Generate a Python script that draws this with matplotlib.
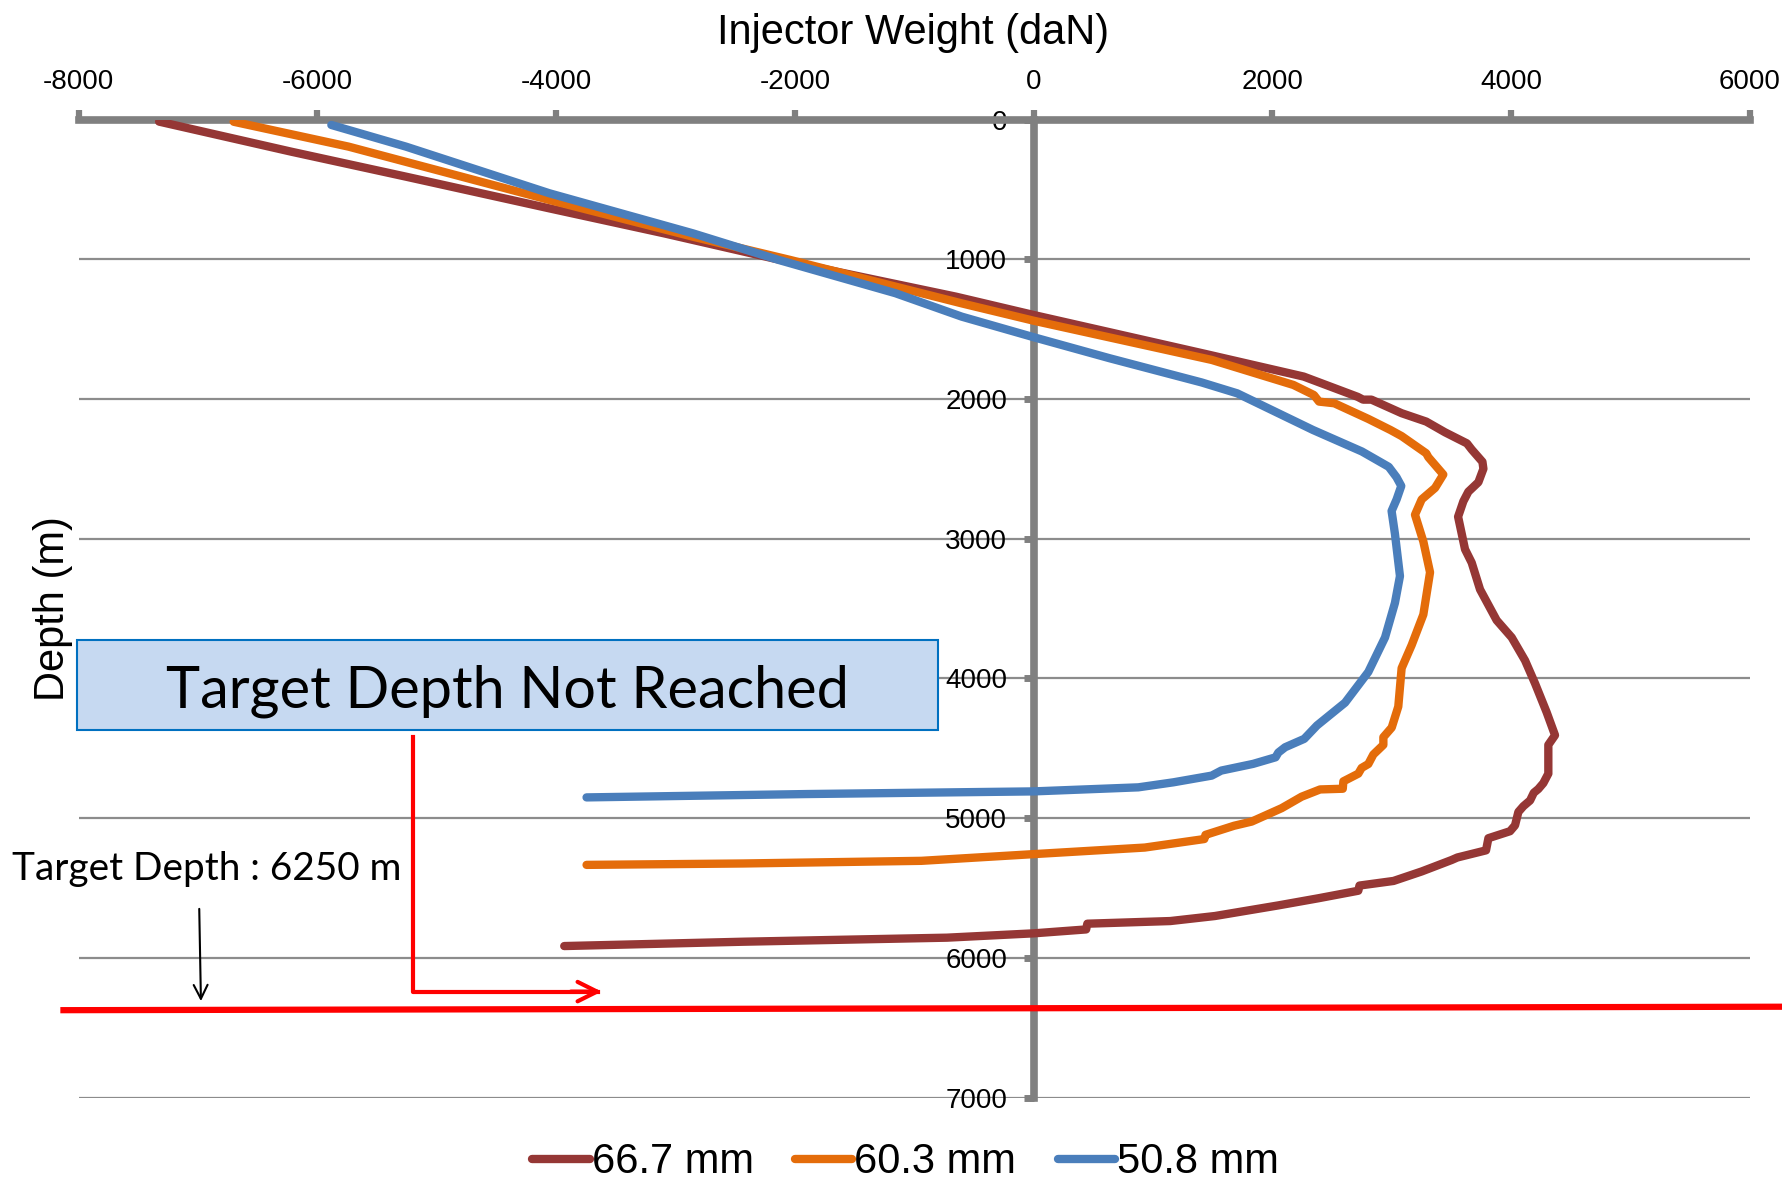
import matplotlib
matplotlib.use("Agg")
import matplotlib.pyplot as plt
from matplotlib.patches import Rectangle

plt.rcParams['font.family'] = ['Liberation Sans', 'DejaVu Sans']
plt.rcParams['axes.unicode_minus'] = False

# depth (m) / injector weight (daN)
depth_667 = [15, 230, 409, 636, 815, 994, 1268, 1399, 1680, 1840, 1985, 2005, 2005,
             2102, 2162, 2239, 2318, 2362, 2450, 2500, 2596, 2664, 2733, 2843, 3076,
             3172, 3364, 3584, 3707, 3872, 4037, 4243, 4407, 4476, 4682, 4750, 4792,
             4819, 4874, 4915, 4956, 5052, 5094, 5144, 5231, 5282, 5300, 5382, 5450,
             5483, 5520, 5574, 5625, 5701, 5737, 5756, 5797, 5825, 5856, 5885, 5916]
weight_667 = [-7326, -6220, -5258, -4056, -3094, -2180, -650, 0, 1450, 2263, 2715, 2760, 2830,
              3083, 3289, 3447, 3630, 3670, 3760, 3768, 3726, 3642, 3600, 3556, 3614,
              3670, 3740, 3879, 4005, 4117, 4201, 4298, 4368, 4312, 4312, 4270, 4228,
              4190, 4159, 4103, 4061, 4033, 3991, 3810, 3790, 3550, 3502, 3251, 3015,
              2730, 2720, 2385, 2050, 1519, 1145, 450, 440, 0, -726, -2436, -3932]

depth_603 = [16, 194, 576, 839, 1006, 1316, 1440, 1721, 1900, 1972, 2019, 2031, 2143,
             2222, 2266, 2389, 2417, 2541, 2637, 2719, 2829, 3021, 3241, 3543, 3762,
             3927, 4202, 4352, 4421, 4476, 4545, 4613, 4641, 4682, 4737, 4790, 4795,
             4847, 4929, 5025, 5055, 5120, 5150, 5211, 5258, 5306, 5325, 5335]
weight_603 = [-6701, -5739, -4056, -2853, -2035, -602, 0, 1493, 2177, 2348, 2391, 2519, 2804,
              2989, 3083, 3289, 3307, 3432, 3363, 3251, 3195, 3265, 3321, 3265, 3167,
              3083, 3055, 3000, 2930, 2930, 2846, 2804, 2748, 2720, 2595, 2590, 2400,
              2245, 2078, 1827, 1679, 1440, 1430, 931, 0, -940, -2436, -3745]

depth_508 = [39, 194, 528, 815, 1006, 1243, 1411, 1558, 1709, 1882, 1960, 2222, 2376,
             2486, 2560, 2623, 2719, 2802, 2966, 3268, 3460, 3707, 3954, 4174, 4337,
             4433, 4493, 4531, 4565, 4612, 4660, 4696, 4744, 4780, 4809, 4828, 4852]
weight_508 = [-5883, -5258, -4056, -2853, -2132, -1158, -602, 0, 638, 1408, 1706, 2340, 2750,
              2975, 3040, 3080, 3041, 2999, 3027, 3069, 3027, 2944, 2804, 2609, 2374,
              2267, 2107, 2050, 2027, 1839, 1572, 1492, 1171, 877, 0, -1901, -3745]

labels = ['66.7 mm', '60.3 mm', '50.8 mm']
colors = ['#953735', '#E46C0A', '#4A7EBB']

fig = plt.figure(figsize=(17.83, 11.81), dpi=100)
ax = fig.add_axes([0.0441, 0.0707, 0.9373, 0.8281])

for d, w, lab, c in zip([depth_667, depth_603, depth_508],
                        [weight_667, weight_603, weight_508], labels, colors):
    ax.plot(w, d, color=c, lw=6, label=lab, solid_capstyle='round',
            solid_joinstyle='round', zorder=3)

ax.set_xlim(-8000, 6000)
ax.set_ylim(7000, 0)
ax.set_xticks(range(-8000, 6001, 2000))
ax.set_yticks(range(0, 7001, 1000))

ax.xaxis.tick_top()
ax.spines['left'].set_position(('data', 0))
ax.spines['right'].set_visible(False)
ax.spines['bottom'].set_visible(False)
for s in ['top', 'left']:
    ax.spines[s].set_color('#808080')
    ax.spines[s].set_linewidth(5.5)
ax.tick_params(axis='x', direction='out', length=7, width=4.5, color='#808080',
               pad=11, labelsize=20)
ax.tick_params(axis='y', direction='out', length=7, width=5, color='#808080',
               pad=12, labelsize=20)
ax.yaxis.grid(True, color='#8c8c8c', lw=1.6)
ax.set_axisbelow(True)

fig.text(0.512, 0.972, 'Injector Weight (daN)', fontsize=30, ha='center', va='center')
fig.text(0.0295, 0.485, 'Depth (m)', fontsize=30, rotation=90, ha='center', va='center')

# annotations
ax.add_patch(Rectangle((-8010, 3726), 7206, 644, facecolor='#C6D9F1',
                       edgecolor='#0070C0', lw=1.5, clip_on=False, zorder=4))
ax.text(-4407, 4090, 'Target Depth Not Reached', fontsize=41.5, family='Lato',
        ha='center', va='center', zorder=5)
ax.plot([-8127, 6400], [6375, 6350], color='#FF0000', lw=4.5, clip_on=False, zorder=4)
ax.plot([-5195, -5195, -3650], [4420, 6242, 6242], color='#FF0000', lw=3,
        clip_on=False, zorder=4)
ax.annotate('', xy=(-3595, 6242), xytext=(-3900, 6242),
            arrowprops=dict(arrowstyle='->', color='#FF0000', lw=3, mutation_scale=35))
ax.annotate('', xy=(-6975, 6330), xytext=(-6990, 5630),
            arrowprops=dict(arrowstyle='->', color='black', lw=1.5, mutation_scale=25))
ax.text(-8555, 5365, 'Target Depth : 6250 m', fontsize=27.9, family='Lato',
        ha='left', va='center', clip_on=False)

ax.legend(loc='center', bbox_to_anchor=(0.508, 0.016), bbox_transform=fig.transFigure,
          ncol=3, frameon=False, fontsize=30, handlelength=1.37, handletextpad=0.05,
          columnspacing=1.0)

fig.savefig('out.png', dpi=100)
